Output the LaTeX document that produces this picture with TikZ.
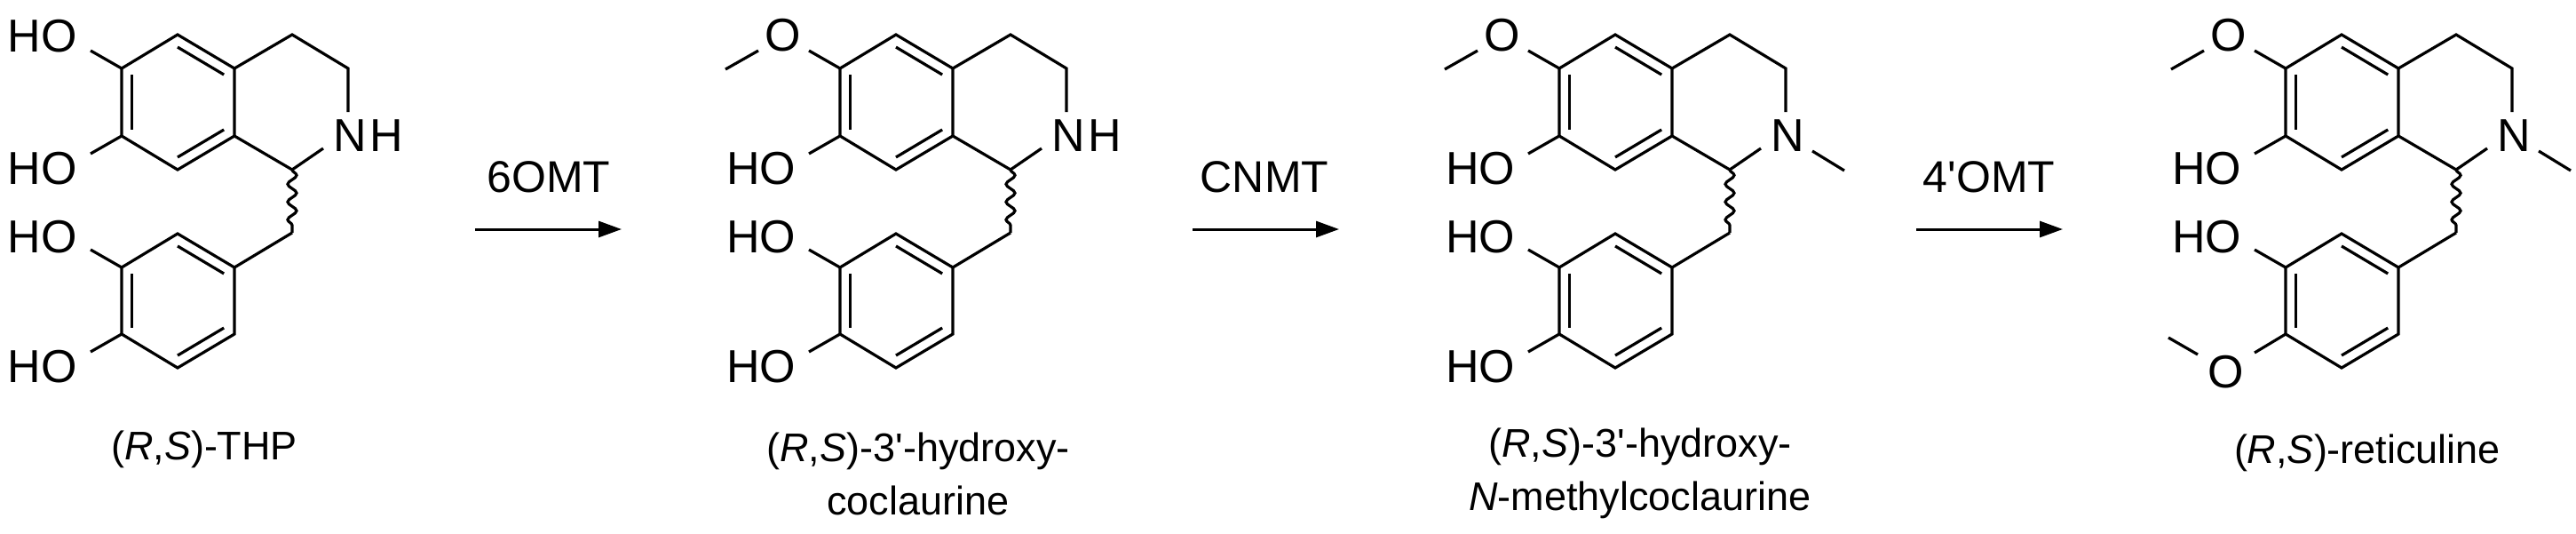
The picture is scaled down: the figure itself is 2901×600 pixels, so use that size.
\documentclass[tikz,border=0pt]{standalone}
\usepackage{fontspec}
\setmainfont{Liberation Sans}[Ligatures=TeXOff]
\usetikzlibrary{calc,arrows.meta,decorations.pathmorphing}
\tikzset{
  bond/.style={line width=3.2pt, line cap=butt, line join=miter},
  atom/.style={inner sep=0pt, font=\fontsize{52}{52}\selectfont},
  enz/.style={inner sep=0pt, font=\fontsize{50}{50}\selectfont},
  molcap/.style={inner sep=0pt, align=center, font=\fontsize{45}{60}\selectfont},
  wavy/.style={bond, decorate, decoration={snake, segment length=20pt, amplitude=5pt}},
  rxn/.style={line width=3pt, -{Triangle[length=26pt,width=18pt]}}
}
\newcommand\skel[1]{%
  \coordinate (#1a1) at (200,39); \coordinate (#1a2) at (264,77);
  \coordinate (#1a3) at (264,153); \coordinate (#1a4) at (200,191);
  \coordinate (#1a5) at (137,153); \coordinate (#1a6) at (137,77);
  \coordinate (#1ca) at (200,115);
  \coordinate (#1c3) at (329,39); \coordinate (#1c4) at (392,77);
  \coordinate (#1c1) at (329,191);
  \coordinate (#1nt) at (392,126); \coordinate (#1nb) at (364,167);
  \coordinate (#1b1) at (200,263); \coordinate (#1b2) at (264,301);
  \coordinate (#1b3) at (264,376); \coordinate (#1b4) at (200,414);
  \coordinate (#1b5) at (137,376); \coordinate (#1b6) at (137,301);
  \coordinate (#1cb) at (200,338.5); \coordinate (#1cm) at (329,262);
  \draw[bond] (#1a1)--(#1a2)--(#1a3)--(#1a4)--(#1a5)--(#1a6)--cycle;
  \draw[bond] (#1a2)--(#1c3)--(#1c4)--(#1nt);
  \draw[bond] (#1a3)--(#1c1)--(#1nb);
  \draw[bond] (#1b1)--(#1b2)--(#1b3)--(#1b4)--(#1b5)--(#1b6)--cycle;
  \draw[bond] (#1b2)--(#1cm);
  \draw[wavy] (#1c1)--(#1cm);
  \draw[bond] ($(#1ca)!0.815!(#1a6)$)--($(#1ca)!0.815!(#1a5)$);
  \draw[bond] ($(#1ca)!0.815!(#1a1)$)--($(#1ca)!0.815!(#1a2)$);
  \draw[bond] ($(#1ca)!0.815!(#1a3)$)--($(#1ca)!0.815!(#1a4)$);
  \draw[bond] ($(#1cb)!0.815!(#1b6)$)--($(#1cb)!0.815!(#1b5)$);
  \draw[bond] ($(#1cb)!0.815!(#1b1)$)--($(#1cb)!0.815!(#1b2)$);
  \draw[bond] ($(#1cb)!0.815!(#1b3)$)--($(#1cb)!0.815!(#1b4)$);
}
\newcommand\hoA[1]{\node[atom] (#1hoA) at (48,41) {HO}; \coordinate (#1eA) at (102,57); \draw[bond] (#1a6)--(#1eA);}
\newcommand\omeA[1]{\node[atom] (#1oA) at (73,40) {O}; \coordinate (#1eA) at (102,57); \coordinate (#1mA1) at (45,57); \coordinate (#1mA2) at (8,78);
  \draw[bond] (#1a6)--(#1eA); \draw[bond] (#1mA1)--(#1mA2);}
\newcommand\hoB[1]{\node[atom] (#1hoB) at (48,190) {HO}; \coordinate (#1eB) at (102,173); \draw[bond] (#1a5)--(#1eB);}
\newcommand\hoC[1]{\node[atom] (#1hoC) at (48,267) {HO}; \coordinate (#1eC) at (102,281); \draw[bond] (#1b6)--(#1eC);}
\newcommand\hoD[1]{\node[atom] (#1hoD) at (48,413) {HO}; \coordinate (#1eD) at (102,396); \draw[bond] (#1b5)--(#1eD);}
\newcommand\omeD[1]{\node[atom] (#1oD) at (70,419) {O}; \coordinate (#1eD) at (102,397); \coordinate (#1mD1) at (38,399); \coordinate (#1mD2) at (5,380);
  \draw[bond] (#1b5)--(#1eD); \draw[bond] (#1mD1)--(#1mD2);}
\newcommand\nh[1]{\node[atom] (#1n) at (394,153) {N}; \node[atom, anchor=west] (#1h) at ([xshift=3pt]#1n.east) {H};}
\newcommand\nme[1]{\node[atom] (#1n) at (394,153) {N}; \coordinate (#1m1) at (422,170); \coordinate (#1m2) at (458,192); \draw[bond] (#1m1)--(#1m2);}
\begin{document}
\begin{tikzpicture}[x=1pt,y=-1pt]
\useasboundingbox (0,0) rectangle (2901,600);
\begin{scope}
  \skel{p} \hoA{p} \hoB{p} \hoC{p} \hoD{p} \nh{p}
  \node[molcap] (capp) at (230,506) {(\textit{R},\textit{S})-THP};
\end{scope}
\begin{scope}[xshift=809pt]
  \skel{q} \omeA{q} \hoB{q} \hoC{q} \hoD{q} \nh{q}
  \node[molcap] (capq) at (225,533) {(\textit{R},\textit{S})-3'-hydroxy-\\coclaurine};
\end{scope}
\begin{scope}[xshift=1619pt]
  \skel{r} \omeA{r} \hoB{r} \hoC{r} \hoD{r} \nme{r}
  \node[molcap] (capr) at (228,533) {(\textit{R},\textit{S})-3'-hydroxy-\\\textit{N}-methylcoclaurine};
\end{scope}
\begin{scope}[xshift=2437pt]
  \skel{s} \omeA{s} \hoB{s} \hoC{s} \omeD{s} \nme{s}
  \node[molcap] (caps) at (229,510) {(\textit{R},\textit{S})-reticuline};
\end{scope}
\coordinate (r1a) at (535,258); \coordinate (r1b) at (700,258);
\coordinate (r2a) at (1343,258); \coordinate (r2b) at (1508,258);
\coordinate (r3a) at (2158,258); \coordinate (r3b) at (2323,258);
\draw[rxn] (r1a)--(r1b); \draw[rxn] (r2a)--(r2b); \draw[rxn] (r3a)--(r3b);
\node[enz] (e1) at (618,199) {6OMT};
\node[enz] (e2) at (1424,199) {CNMT};
\node[enz] (e3) at (2240,199) {4'OMT};
\end{tikzpicture}
\end{document}
